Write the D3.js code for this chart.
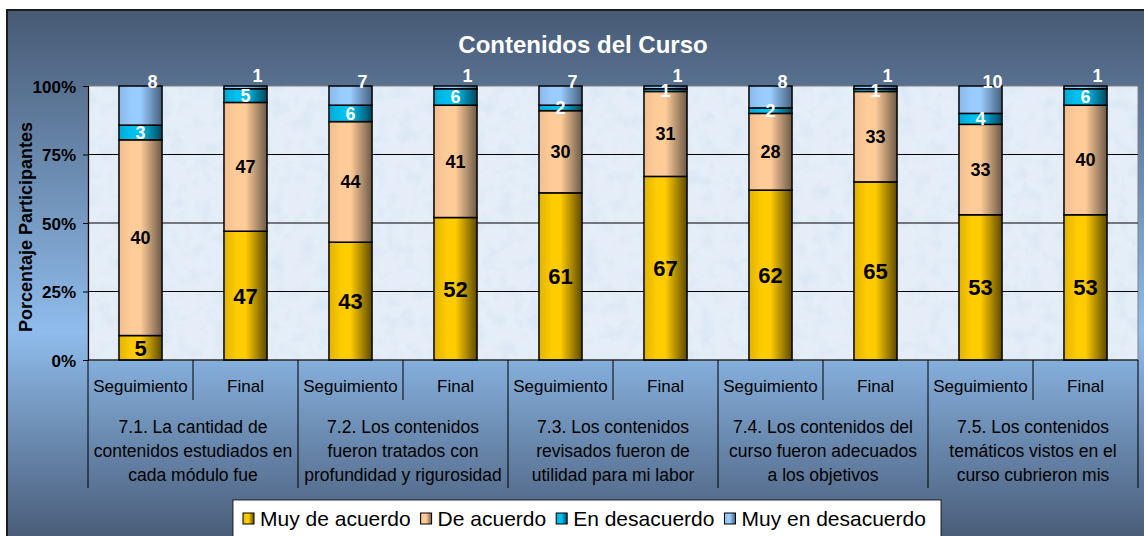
<!DOCTYPE html>
<html><head><meta charset="utf-8">
<script src="https://cdn.jsdelivr.net/npm/d3@7"></script>
<style>
body{margin:0;background:#fff}
svg{display:block;font-family:Arial,"Liberation Sans",sans-serif}
</style>
</head><body>
<svg id="c" width="1144" height="536"></svg>
<script>
// ---------- data ----------
const title = "Contenidos del Curso";
const yTitle = "Porcentaje Participantes";
const groupLabels = [
  ["7.1. La cantidad de", "contenidos estudiados en", "cada módulo fue"],
  ["7.2. Los contenidos", "fueron tratados con", "profundidad y rigurosidad"],
  ["7.3. Los contenidos", "revisados fueron de", "utilidad para mi labor"],
  ["7.4. Los contenidos del", "curso fueron adecuados", "a los objetivos"],
  ["7.5. Los contenidos", "temáticos vistos en el", "curso cubrieron mis"]
];
const subCategories = ["Seguimiento", "Final"];
const seriesNames = ["Muy de acuerdo", "De acuerdo", "En desacuerdo", "Muy en desacuerdo"];
const muyDeAcuerdo    = [5, 47, 43, 52, 61, 67, 62, 65, 53, 53];
const deAcuerdo       = [40, 47, 44, 41, 30, 31, 28, 33, 33, 40];
const enDesacuerdo    = [3, 5, 6, 6, 2, 1, 2, 1, 4, 6];
const muyEnDesacuerdo = [8, 1, 7, 1, 7, 1, 8, 1, 10, 1];
const yTickValues = [0, 0.25, 0.5, 0.75, 1];

// ---------- styles ----------
const baseColors = ["#ffcc00", "#ffcc99", "#00c0ee", "#99ccff"];
const darkColors = ["#5e4a00", "#6e5a48", "#00475e", "#46607e"];
const leftColors = ["#e0b300", "#f0be90", "#00a8d4", "#8ab8e8"];
const labelFill = ["#000", "#000", "#fff", "#fff"];
const labelSize = [22, 18, 18, 18];

const svg = d3.select("#c");
const W = 1144, H = 536;
const defs = svg.append("defs");

const bg = defs.append("linearGradient").attr("id", "bg").attr("x1", 0).attr("x2", 0).attr("y1", 0).attr("y2", 1);
bg.append("stop").attr("offset", 0).attr("stop-color", "#475a74");
bg.append("stop").attr("offset", 0.6).attr("stop-color", "#8fbcec");
bg.append("stop").attr("offset", 1).attr("stop-color", "#465873");

baseColors.forEach((c, i) => {
  const g = defs.append("linearGradient").attr("id", "g" + i).attr("x1", 0).attr("x2", 1).attr("y1", 0).attr("y2", 0);
  g.append("stop").attr("offset", 0).attr("stop-color", leftColors[i]);
  g.append("stop").attr("offset", 0.3).attr("stop-color", c);
  g.append("stop").attr("offset", 0.5).attr("stop-color", c);
  g.append("stop").attr("offset", 1).attr("stop-color", darkColors[i]);
});

const f = defs.append("filter").attr("id", "tex").attr("x", 0).attr("y", 0).attr("width", "100%").attr("height", "100%");
f.append("feTurbulence").attr("type", "fractalNoise").attr("baseFrequency", 0.07).attr("numOctaves", 3).attr("seed", 4);
f.append("feColorMatrix").attr("type", "matrix")
  .attr("values", "0 0 0 0 0.66  0 0 0 0 0.77  0 0 0 0 0.9  1.4 0 0 0 -0.58");

svg.append("rect").attr("x", 7).attr("y", 10).attr("width", W).attr("height", H)
  .attr("fill", "url(#bg)").attr("stroke", "#1c1c1c").attr("stroke-width", 2);

// ---------- scales ----------
const n = muyDeAcuerdo.length;
const rows = d3.range(n).map(i => ({
  i, m0: muyDeAcuerdo[i], m1: deAcuerdo[i], m2: enDesacuerdo[i], m3: muyEnDesacuerdo[i]
}));
const keys = ["m0", "m1", "m2", "m3"];
const stacked = d3.stack().keys(keys).offset(d3.stackOffsetExpand)(rows);

const plotL = 88, plotR = 1138, plotT = 86, plotB = 360;
const x = d3.scaleBand().domain(d3.range(n)).range([plotL, plotR]).paddingInner(0.59).paddingOuter(0.295);
const y = d3.scaleLinear().domain([0, 1]).range([plotB, plotT]);

svg.append("rect").attr("x", plotL).attr("y", plotT).attr("width", plotR - plotL).attr("height", plotB - plotT)
  .attr("fill", "#e5eef8");
svg.append("rect").attr("x", plotL).attr("y", plotT).attr("width", plotR - plotL).attr("height", plotB - plotT)
  .attr("fill", "#fff").attr("filter", "url(#tex)");
svg.append("rect").attr("x", plotL).attr("y", plotT).attr("width", plotR - plotL).attr("height", plotB - plotT)
  .attr("fill", "none").attr("stroke", "#808080").attr("stroke-width", 1);

svg.append("g").selectAll("line").data(yTickValues.filter(v => v > 0 && v < 1)).join("line")
  .attr("x1", plotL).attr("x2", plotR).attr("y1", d => y(d)).attr("y2", d => y(d))
  .attr("stroke", "#000").attr("stroke-width", 1);

const yAxis = svg.append("g").attr("transform", `translate(${plotL},0)`)
  .call(d3.axisLeft(y).tickValues(yTickValues).tickFormat(d3.format(".0%")).tickSize(5).tickPadding(7));
yAxis.select(".domain").attr("stroke", "#000").attr("stroke-width", 1.2);
yAxis.selectAll("line").attr("stroke", "#000");
yAxis.selectAll("text").attr("font-size", 17).attr("font-weight", "bold").attr("fill", "#000")
  .attr("font-family", "Arial, 'Liberation Sans', sans-serif").attr("dy", "0.36em");

svg.append("text").attr("transform", `translate(32,${(plotT + plotB) / 2 + 4}) rotate(-90)`)
  .attr("text-anchor", "middle").attr("font-size", 18).attr("font-weight", "bold").attr("fill", "#000")
  .text(yTitle);

svg.append("text").attr("x", 583).attr("y", 53).attr("text-anchor", "middle")
  .attr("font-size", 24).attr("font-weight", "bold").attr("fill", "#fff").text(title);

const layers = svg.append("g").selectAll("g").data(stacked).join("g")
  .attr("fill", (d, i) => `url(#g${i})`);
layers.selectAll("rect").data(d => d).join("rect")
  .attr("x", d => x(d.data.i)).attr("width", x.bandwidth())
  .attr("y", d => y(d[1])).attr("height", d => y(d[0]) - y(d[1]))
  .attr("stroke", "#000").attr("stroke-width", 1.5);

stacked.forEach((layer, si) => {
  svg.append("g").selectAll("text").data(layer).join("text")
    .attr("x", d => x(d.data.i) + x.bandwidth() / 2 + (si === 3 ? 12 : 0))
    .attr("y", d => {
      if (si === 3) {
        const v = d.data[keys[si]];
        return y(d[1]) - (v <= 1 ? 10 : 4);
      }
      return (y(d[0]) + y(d[1])) / 2;
    })
    .attr("dy", "0.36em")
    .attr("text-anchor", "middle").attr("font-weight", "bold")
    .attr("font-size", labelSize[si]).attr("fill", labelFill[si])
    .text(d => d.data[keys[si]]);
});

svg.append("line").attr("x1", plotL).attr("x2", plotR).attr("y1", plotB).attr("y2", plotB)
  .attr("stroke", "#000").attr("stroke-width", 1.2);

const step = x.step();
const bnd = i => plotL + i * step;
const sepG = svg.append("g").attr("stroke", "#000").attr("stroke-width", 1);
d3.range(n + 1).forEach(i => {
  const long = i % 2 === 0;
  sepG.append("line").attr("x1", bnd(i)).attr("x2", bnd(i))
    .attr("y1", plotB).attr("y2", long ? 488 : 400);
});
svg.append("g").selectAll("text").data(d3.range(n)).join("text")
  .attr("x", i => x(i) + x.bandwidth() / 2).attr("y", 392)
  .attr("text-anchor", "middle").attr("font-size", 17).attr("fill", "#000")
  .text(i => subCategories[i % 2]);
const gl = svg.append("g");
groupLabels.forEach((lines, gi) => {
  const cx = (bnd(gi * 2) + bnd(gi * 2 + 2)) / 2;
  lines.forEach((ln, li) => {
    gl.append("text").attr("x", cx).attr("y", 433 + li * 24)
      .attr("text-anchor", "middle").attr("font-size", 17.5).attr("fill", "#000").text(ln);
  });
});

const lg = svg.append("g");
lg.append("rect").attr("x", 233).attr("y", 500).attr("width", 708).attr("height", 50)
  .attr("fill", "#fff").attr("stroke", "#000").attr("stroke-width", 0.8);
let lx = 243;
seriesNames.forEach((s, i) => {
  lg.append("rect").attr("x", lx).attr("y", 513).attr("width", 11).attr("height", 11)
    .attr("fill", `url(#g${i})`).attr("stroke", "#000").attr("stroke-width", 1);
  const t = lg.append("text").attr("x", lx + 17).attr("y", 526).attr("font-size", 21).attr("fill", "#000").text(s);
  lx = lx + 17 + t.node().getComputedTextLength() + 10;
});
</script>
</body></html>
